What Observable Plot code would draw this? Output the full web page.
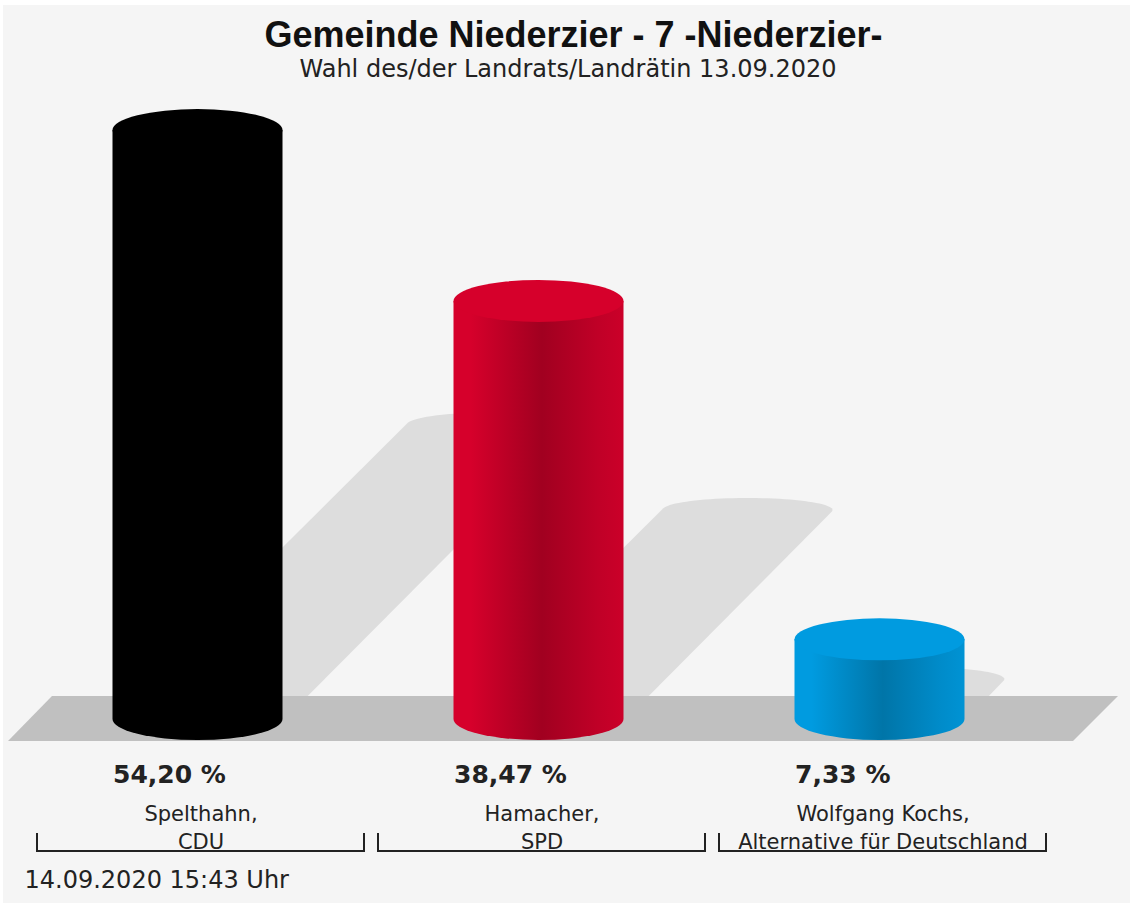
<!DOCTYPE html>
<html>
<head>
<meta charset="utf-8">
<script src="https://cdn.jsdelivr.net/npm/d3@7"></script>
<script src="https://cdn.jsdelivr.net/npm/@observablehq/plot@0.6"></script>
<style>
html, body { margin: 0; padding: 0; background: #ffffff; overflow: hidden; width: 1133px; height: 906px; }
#panel { position: absolute; left: 3px; top: 5px; width: 1127px; height: 898px; background: #f5f5f5; }
#chart { position: absolute; left: 0; top: 0; width: 1133px; height: 906px; }
.t { position: absolute; white-space: nowrap; margin: 0; }
#title { left: 0; width: 1147px; top: 16.5px; text-align: center; font: bold 36px/36px "Liberation Sans", Arial, sans-serif; color: #111; }
#subtitle { left: 0; width: 1136px; top: 56.7px; text-align: center; font: 24px/24px "DejaVu Sans", sans-serif; color: #222; }
#caption { left: 24.5px; top: 867.7px; font: 24px/24px "DejaVu Sans", sans-serif; color: #222; }
</style>
</head>
<body>
<div id="panel"></div>
<div id="chart"></div>
<div class="t" id="title"></div>
<div class="t" id="subtitle"></div>
<div class="t" id="caption"></div>
<script>
// ---- data ----
const titleText = "Gemeinde Niederzier - 7 -Niederzier-";
const subtitleText = "Wahl des/der Landrats/Landrätin 13.09.2020";
const captionText = "14.09.2020 15:43 Uhr";
const names = ["Spelthahn,\nCDU", "Hamacher,\nSPD", "Wolfgang Kochs,\nAlternative für Deutschland"];
const values = [54.20, 38.47, 7.33];
const colors = ["#000000", "#d6002b", "#009be0"];

document.getElementById("title").textContent = titleText;
document.getElementById("subtitle").textContent = subtitleText;
document.getElementById("caption").textContent = captionText;

const rows = names.map((name, i) => ({name, value: values[i], color: colors[i]}));
const fmt = v => v.toFixed(2).replace(".", ",") + " %";

const RX = 85, RY = 21, SRY = 12, SHIFT = -3;

function scene(index, scales) {
  const {x, y} = scales;
  const bw = x.bandwidth();
  const y0 = y(0);
  const [r0, r1] = x.range();
  const root = d3.create("svg:g");
  const defs = root.append("defs");
  const cyl = rows.map((d, i) => {
    const cx = x(d.name) + bw / 2 + SHIFT;
    const yt = y(d.value);
    return {...d, i, cx, yt, h: y0 - yt};
  });
  // shadows
  for (const c of cyl) {
    const pts = [];
    for (let k = 0; k < 90; k++) {
      const a = k / 90 * 2 * Math.PI;
      pts.push([c.cx + RX * Math.cos(a), y0 + RY * Math.sin(a)]);
      pts.push([c.cx + c.h * 0.5 + RX * Math.cos(a), y0 - c.h * 0.5 + SRY * Math.sin(a)]);
    }
    const hull = d3.polygonHull(pts);
    root.append("path").attr("d", "M" + hull.join("L") + "Z").attr("fill", "#dddddd");
  }
  // floor
  root.append("path")
    .attr("d", `M${r0 + 15},${y0 - 23}L${r1 + 71},${y0 - 23}L${r1 + 26},${y0 + 22}L${r0 - 29},${y0 + 22}Z`)
    .attr("fill", "#c0c0c0");
  // cylinders
  for (const c of cyl) {
    const col = d3.color(c.color);
    const id = `cyl-body-${c.i}`;
    const grad = defs.append("linearGradient").attr("id", id)
      .attr("x1", 0).attr("x2", 1).attr("y1", 0).attr("y2", 0);
    [[0, col], [0.1, col], [0.52, col.darker(0.8)], [0.85, col.darker(0.3)], [1, col.darker(0.15)]]
      .forEach(([o, cc]) => grad.append("stop").attr("offset", o).attr("stop-color", d3.color(cc).formatHex()));
    root.append("path")
      .attr("d", `M${c.cx - RX},${c.yt}L${c.cx - RX},${y0}A${RX},${RY} 0 0 0 ${c.cx + RX},${y0}L${c.cx + RX},${c.yt}Z`)
      .attr("fill", `url(#${id})`);
    root.append("ellipse")
      .attr("cx", c.cx).attr("cy", c.yt).attr("rx", RX).attr("ry", RY)
      .attr("fill", col.formatHex());
  }
  return root.node();
}

function brackets(index, scales) {
  const {x, y} = scales;
  const bw = x.bandwidth();
  const y0 = y(0);
  const g = d3.create("svg:g").attr("fill", "none").attr("stroke", "#222").attr("stroke-width", 2);
  for (const n of names) {
    const a = x(n), b = x(n) + bw;
    g.append("path").attr("d", `M${a},${y0 + 114}V${y0 + 132}H${b}V${y0 + 114}`);
  }
  return g.node();
}

const chart = Plot.plot({
  width: 1133,
  height: 906,
  marginLeft: 37,
  marginRight: 86,
  marginTop: 67,
  marginBottom: 187,
  style: {background: "transparent", overflow: "visible"},
  x: {type: "band", domain: names, paddingInner: 0.04, paddingOuter: 0, axis: null},
  y: {domain: [0, 60], axis: null},
  marks: [
    scene,
    brackets,
    Plot.text(rows, {
      x: "name", y: () => 0, text: d => fmt(d.value),
      dx: SHIFT - RX, dy: 63, textAnchor: "start", lineAnchor: "bottom",
      fontFamily: "DejaVu Sans", fontWeight: "bold", fontSize: 25, fill: "#222"
    }),
    Plot.text(rows, {
      x: "name", y: () => 0, text: "name",
      dy: 129, lineAnchor: "bottom", lineHeight: 1.333,
      fontFamily: "DejaVu Sans", fontSize: 21, fill: "#222"
    })
  ]
});
document.getElementById("chart").appendChild(chart);
</script>
</body>
</html>
